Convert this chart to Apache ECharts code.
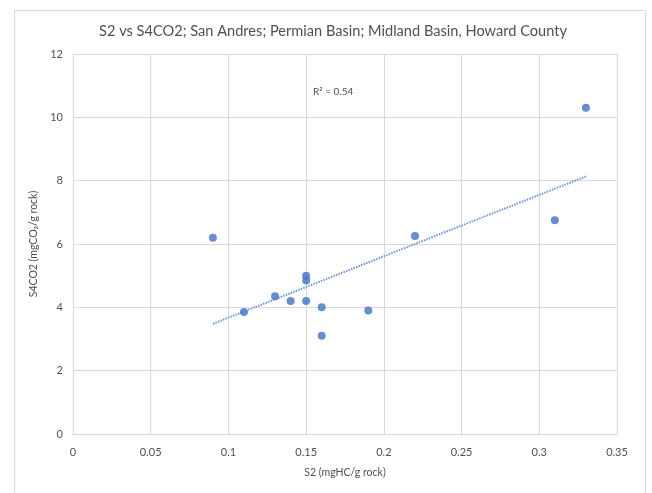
<!DOCTYPE html>
<html>
<head>
<meta charset="utf-8">
<script src="https://cdn.jsdelivr.net/npm/echarts@6/dist/echarts.min.js"></script>
<style>
  html, body { margin: 0; padding: 0; background: #ffffff; }
  #chart { width: 652px; height: 493px; }
</style>
</head>
<body>
<div id="chart"></div>
<script>
// S2 vs S4CO2 measurements
const s2Values = [0.09, 0.11, 0.13, 0.14, 0.15, 0.15, 0.15, 0.16, 0.16, 0.19, 0.22, 0.31, 0.33];
const s4co2Values = [6.2, 3.85, 4.35, 4.2, 5.0, 4.85, 4.2, 4.0, 3.1, 3.9, 6.25, 6.75, 10.3];
const xTicks = [0, 0.05, 0.1, 0.15, 0.2, 0.25, 0.3, 0.35];
const yTicks = [0, 2, 4, 6, 8, 10, 12];

const points = s2Values.map((x, i) => [x, s4co2Values[i]]);

// Least-squares linear trend
const n = s2Values.length;
const mx = s2Values.reduce((a, b) => a + b, 0) / n;
const my = s4co2Values.reduce((a, b) => a + b, 0) / n;
let sxy = 0, sxx = 0, syy = 0;
for (let i = 0; i < n; i++) {
  const dx = s2Values[i] - mx, dy = s4co2Values[i] - my;
  sxy += dx * dy; sxx += dx * dx; syy += dy * dy;
}
const slope = sxy / sxx;
const intercept = my - slope * mx;
const r2 = (sxy * sxy) / (sxx * syy);
const xMin = Math.min(...s2Values), xMax = Math.max(...s2Values);
const trend = [[xMin, intercept + slope * xMin], [xMax, intercept + slope * xMax]];

const font = 'Lato, "Open Sans", sans-serif';
const grey = '#505050';

const chart = echarts.init(document.getElementById('chart'), null, { renderer: 'canvas' });
chart.setOption({
  animation: false,
  backgroundColor: '#ffffff',
  title: {
    text: 'S2 vs S4CO2; San Andres; Permian Basin; Midland Basin, Howard County',
    left: 328, top: 19, textAlign: 'center',
    textStyle: { color: grey, fontSize: 14.6, fontWeight: 'normal', fontFamily: font }
  },
  graphic: [
    {
      type: 'rect', left: 12, top: 8, z: -1, silent: true,
      shape: { width: 631, height: 500 },
      style: { fill: 'none', stroke: '#d9d9d9', lineWidth: 1 }
    },
    {
      type: 'text', left: 313, top: 87,
      style: { text: 'R² = ' + r2.toFixed(2), fill: grey, fontSize: 10, fontFamily: font }
    }
  ],
  grid: { left: 73, top: 54, width: 544, height: 380, containLabel: false },
  xAxis: {
    type: 'value', min: 0, max: 0.35, interval: 0.05,
    name: 'S2 (mgHC/g rock)', nameLocation: 'middle', nameGap: 33,
    nameTextStyle: { color: grey, fontSize: 10.5, fontFamily: font },
    axisLine: { show: true, lineStyle: { color: '#d9d9d9' } },
    axisTick: { show: false },
    axisLabel: {
      color: grey, fontSize: 11, fontFamily: font, margin: 13,
      formatter: v => { const t = xTicks.find(k => Math.abs(k - v) < 1e-9); return t === undefined ? '' : String(t); }
    },
    splitLine: { show: true, lineStyle: { color: '#d9d9d9' } }
  },
  yAxis: {
    type: 'value', min: 0, max: 12, interval: 2,
    name: 'S4CO2 (mgCO₂/g rock)', nameLocation: 'middle', nameGap: 32,
    nameTextStyle: { color: grey, fontSize: 10.5, fontFamily: font },
    axisLine: { show: true, lineStyle: { color: '#d9d9d9' } },
    axisTick: { show: false },
    axisLabel: {
      color: grey, fontSize: 11, fontFamily: font, margin: 10,
      formatter: v => yTicks.includes(v) ? String(v) : ''
    },
    splitLine: { show: true, lineStyle: { color: '#d9d9d9' } }
  },
  series: [
    {
      type: 'line', data: trend, symbol: 'none', silent: true,
      lineStyle: { color: '#6f93d4', width: 2, type: [1.5, 1.2] }, z: 1
    },
    {
      type: 'scatter', data: points, symbol: 'circle', symbolSize: 8,
      itemStyle: { color: '#4472C4' }, z: 2
    }
  ]
});
</script>
</body>
</html>
